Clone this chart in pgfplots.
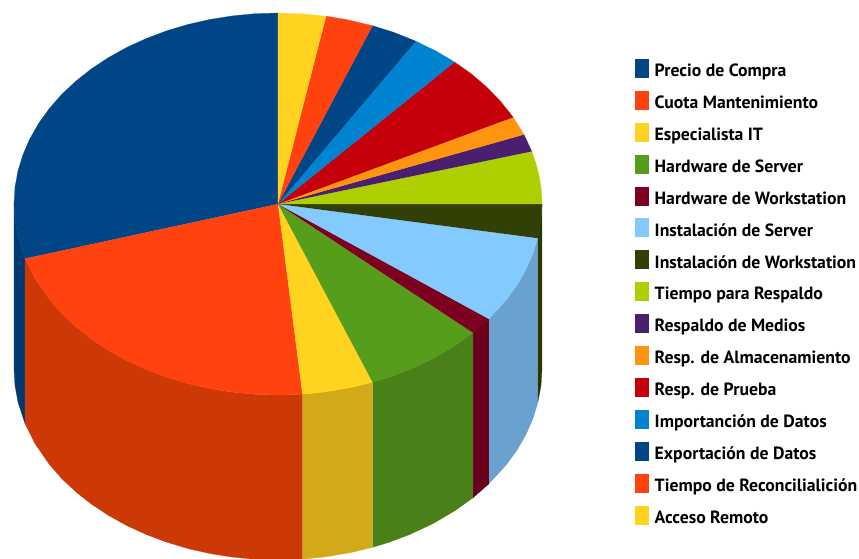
\documentclass[border=0pt]{standalone}
\usepackage{fontspec}
\setmainfont{PT Sans}
\usepackage{pgfplots}
\pgfplotsset{compat=1.18}
% Slice colours (top faces)
\definecolor{cNavy}{HTML}{004586}
\definecolor{cOrange}{HTML}{FF420E}
\definecolor{cYellow}{HTML}{FFD320}
\definecolor{cGreen}{HTML}{579D1C}
\definecolor{cMaroon}{HTML}{7E0021}
\definecolor{cSky}{HTML}{83CAFF}
\definecolor{cDark}{HTML}{314004}
\definecolor{cLime}{HTML}{AECF00}
\definecolor{cPurple}{HTML}{4B1F6F}
\definecolor{cAmber}{HTML}{FF950E}
\definecolor{cRed}{HTML}{C5000B}
\definecolor{cBlue}{HTML}{0084D1}
% Shaded colours (rim of the disc)
\definecolor{sNavy}{HTML}{003A70}
\definecolor{sOrange}{HTML}{CC3906}
\definecolor{sYellow}{HTML}{D2A918}
\definecolor{sGreen}{HTML}{4A8018}
\definecolor{sMaroon}{HTML}{6A001C}
\definecolor{sSky}{HTML}{6BA1CE}
\definecolor{sDark}{HTML}{2A3604}
\begin{document}
\begin{tikzpicture}
\path[use as bounding box] (0,0) rectangle (859pt,558pt);
\begin{axis}[
  anchor=south west, at={(0,0)},
  width=859pt, height=558pt, scale only axis,
  xmin=0, xmax=859, ymin=0, ymax=558, y dir=reverse,
  hide axis,
  legend image code/.code={\fill[#1] (0pt,-6pt) rectangle (13pt,12pt);},
  legend cell align=left,
  legend style={
    at={(axis cs:635,59)}, anchor=north west, draw=none, fill=none,
    font=\bfseries\fontsize{17.7}{19}\selectfont, inner sep=0pt, outer sep=0pt,
    row sep=10.72pt, column sep=0pt,
    /tikz/every odd column/.style={column sep=4.5pt},
  },
]
% Rim of the disc, back to front
\addplot[forget plot, fill=sNavy, draw=sNavy, line width=.2pt] coordinates {
 (25.0,258.6) (18.0,237.2) (15.0,220.7) (14,204) (14,369) (15.0,385.7) (18.0,402.2) (25.0,423.6)};
\addplot[forget plot, fill=sDark, draw=sDark, line width=.2pt] coordinates {
 (542,204) (541.0,220.7) (537.7,238.2) (537.7,403.2) (541.0,385.7) (542,369)};
\addplot[forget plot, fill=sSky, draw=sSky, line width=.2pt] coordinates {
 (537.7,238.2) (533.0,253.4) (526.1,269.3) (517.3,284.7) (506.6,299.5) (488.8,318.9)
 (488.8,483.9) (506.6,464.5) (517.3,449.7) (526.1,434.3) (533.0,418.4) (537.7,403.2)};
\addplot[forget plot, fill=sMaroon, draw=sMaroon, line width=.2pt] coordinates {
 (488.8,318.9) (473.0,332.8) (473.0,497.8) (488.8,483.9)};
\addplot[forget plot, fill=sGreen, draw=sGreen, line width=.2pt] coordinates {
 (473.0,332.8) (454.6,345.9) (433.2,358.5) (410.0,369.4) (389.6,377.1) (372.6,382.3)
 (372.6,547.3) (389.6,542.1) (410.0,534.4) (433.2,523.5) (454.6,510.9) (473.0,497.8)};
\addplot[forget plot, fill=sYellow, draw=sYellow, line width=.2pt] coordinates {
 (372.6,382.3) (350.8,387.6) (323.8,392.1) (302.4,394.2)
 (302.4,559.2) (323.8,557.1) (350.8,552.6) (372.6,547.3)};
\addplot[forget plot, fill=sOrange, draw=sOrange, line width=.2pt] coordinates {
 (302.4,394.2) (278,395) (255.0,394.3) (232.2,392.1) (209.7,388.5) (187.7,383.5) (166.4,377.1)
 (146,369.4) (126.6,360.5) (108.3,350.3) (91.3,339.1) (75.8,326.8) (61.7,313.6) (49.4,299.5)
 (35.0,278.6) (25.0,258.6)
 (25.0,423.6) (35.0,443.6) (49.4,464.5) (61.7,478.6) (75.8,491.8) (91.3,504.1) (108.3,515.3)
 (126.6,525.5) (146,534.4) (166.4,542.1) (187.7,548.5) (209.7,553.5) (232.2,557.1) (255.0,559.3)
 (278,560) (302.4,559.2)};
% Top face, one wedge per cost item
\addplot[fill=cNavy, draw=cNavy, line width=.2pt] coordinates {
 (278,204) (25.0,258.6) (18.0,237.2) (15.0,220.7) (14,204) (15.0,187.3) (18.0,170.8) (23.0,154.6)
 (29.9,138.7) (38.7,123.3) (49.4,108.5) (61.7,94.4) (75.8,81.2) (91.3,68.9) (108.3,57.7)
 (126.6,47.5) (146,38.6) (166.4,30.9) (187.7,24.5) (209.7,19.5) (232.2,15.9) (255.0,13.7) (278,13)};
\addplot[fill=cOrange, draw=cOrange, line width=.2pt] coordinates {
 (278,204) (302.4,394.2) (278,395) (255.0,394.3) (232.2,392.1) (209.7,388.5) (187.7,383.5) (166.4,377.1)
 (146,369.4) (126.6,360.5) (108.3,350.3) (91.3,339.1) (75.8,326.8) (61.7,313.6) (49.4,299.5)
 (35.0,278.6) (25.0,258.6)};
\addplot[fill=cYellow, draw=cYellow, line width=.2pt] coordinates {
 (278,204) (372.6,382.3) (350.8,387.6) (323.8,392.1) (302.4,394.2)};
\addplot[fill=cGreen, draw=cGreen, line width=.2pt] coordinates {
 (278,204) (473.0,332.8) (454.6,345.9) (433.2,358.5) (410.0,369.4) (389.6,377.1) (372.6,382.3)};
\addplot[fill=cMaroon, draw=cMaroon, line width=.2pt] coordinates {
 (278,204) (488.8,318.9) (473.0,332.8)};
\addplot[fill=cSky, draw=cSky, line width=.2pt] coordinates {
 (278,204) (537.7,238.2) (533.0,253.4) (526.1,269.3) (517.3,284.7) (506.6,299.5) (488.8,318.9)};
\addplot[fill=cDark, draw=cDark, line width=.2pt] coordinates {
 (278,204) (542,204) (541.0,220.7) (537.7,238.2)};
\addplot[fill=cLime, draw=cLime, line width=.2pt] coordinates {
 (278,204) (531.8,151.4) (536.2,164.3) (539.4,177.4) (541.4,190.7) (542,204)};
\addplot[fill=cPurple, draw=cPurple, line width=.2pt] coordinates {
 (278,204) (524.0,134.6) (531.8,151.4)};
\addplot[fill=cAmber, draw=cAmber, line width=.2pt] coordinates {
 (278,204) (513.2,117.3) (524.0,134.6)};
\addplot[fill=cRed, draw=cRed, line width=.2pt] coordinates {
 (278,204) (454.6,62.1) (471.1,73.7) (486.0,86.4) (499.4,100.0) (513.2,117.3)};
\addplot[fill=cBlue, draw=cBlue, line width=.2pt] coordinates {
 (278,204) (415.9,41.2) (436.9,51.5) (454.6,62.1)};
\addplot[fill=cNavy, draw=cNavy, line width=.2pt] coordinates {
 (278,204) (372.6,25.7) (393.7,32.3) (415.9,41.2)};
\addplot[fill=cOrange, draw=cOrange, line width=.2pt] coordinates {
 (278,204) (326.1,16.2) (346.3,19.5) (372.6,25.7)};
\addplot[fill=cYellow, draw=cYellow, line width=.2pt] coordinates {
 (278,204) (278,13) (301.0,13.7) (326.1,16.2)};
\legend{Precio de Compra, Cuota Mantenimiento, Especialista IT, Hardware de Server,
  Hardware de Workstation, Instalación de Server, Instalación de Workstation,
  Tiempo para Respaldo, Respaldo de Medios, Resp. de Almacenamiento, Resp. de Prueba,
  Importanción de Datos, Exportación de Datos, Tiempo de Reconcilialición, Acceso Remoto}
\end{axis}
\end{tikzpicture}
\end{document}
